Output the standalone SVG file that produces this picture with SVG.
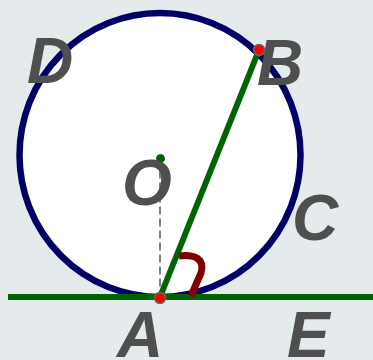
<svg xmlns="http://www.w3.org/2000/svg" width="373" height="360" viewBox="0 0 373 360">
<style>
.lbl{font-family:"Liberation Sans",Arial,sans-serif;font-weight:bold;font-style:italic;font-size:64px;fill:#4f4f4f}
.green{stroke:#006400;stroke-width:6;fill:none}
.pt{fill:#ff0000;stroke:#666;stroke-width:1.5}
</style>
<rect x="0" y="0" width="373" height="360" fill="#e5eaed"/>
<g id="circle">
<ellipse cx="160" cy="155" rx="140.5" ry="142" fill="#ffffff" stroke="#000066" stroke-width="6.5"/>
</g>
<g id="connectors">
<line x1="160" y1="158.5" x2="160" y2="297" stroke="#555" stroke-width="1.5" stroke-dasharray="8,4"/>
<line class="green" x1="8" y1="297" x2="373" y2="297"/>
<line class="green" x1="160" y1="297" x2="259" y2="50"/>
<path d="M179,256 C195,254 205,259 201,273 L191,296" fill="none" stroke="#800000" stroke-width="7"/>
</g>
<g id="O">
<circle cx="160.5" cy="158.5" r="4" fill="#006400" stroke="#444" stroke-width="1"/>
<text class="lbl" x="122" y="205">O</text>
</g>
<g id="A">
<circle class="pt" cx="160" cy="298" r="5.5"/>
<text class="lbl" x="117" y="357">A</text>
</g>
<g id="B">
<circle class="pt" cx="259" cy="50" r="5.5"/>
<text class="lbl" x="257" y="85">B</text>
</g>
<g id="D"><text class="lbl" x="27" y="83">D</text></g>
<g id="C"><text class="lbl" x="292" y="240">C</text></g>
<g id="E"><text class="lbl" x="287" y="357">E</text></g>
</svg>
